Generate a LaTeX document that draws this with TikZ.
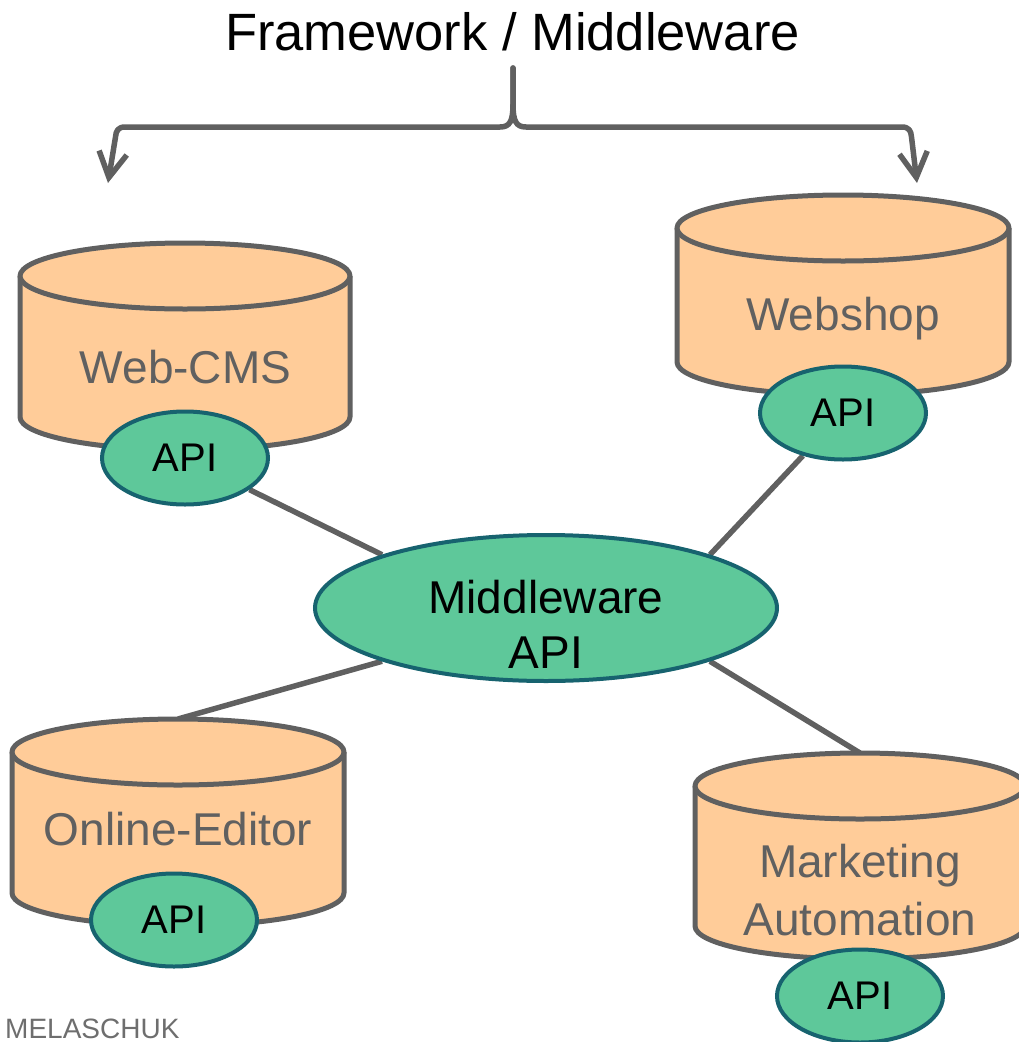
\documentclass[tikz,border=0pt]{standalone}
\usepackage{fontspec}
\setmainfont{Liberation Sans}
\usetikzlibrary{shapes.geometric,arrows.meta}
\pgfdeclarelayer{background}
\pgfsetlayers{background,main}
\definecolor{peach}{HTML}{FFCC99}
\definecolor{edgegray}{HTML}{606060}
\definecolor{apigreen}{HTML}{5EC89A}
\definecolor{apiteal}{HTML}{17636F}
\definecolor{marktext}{HTML}{6E6E6E}
\tikzset{
  cylline/.style={draw=edgegray, line width=5pt, line join=round},
  apinode/.style={ellipse, fill=apigreen, draw=apiteal, line width=4pt, inner sep=0pt,
    minimum width=166pt, minimum height=93pt, font=\fontsize{40}{48}\selectfont, text=black},
  mwnode/.style={ellipse, fill=apigreen, draw=apiteal, line width=4pt, inner sep=0pt,
    minimum width=462pt, minimum height=146pt},
  mwtext/.style={font=\fontsize{46}{55}\selectfont, text=black, anchor=base, inner sep=0pt},
  cyltext/.style={font=\fontsize{46}{55}\selectfont, text=edgegray, anchor=base, inner sep=0pt},
  link/.style={draw=edgegray, line width=5.5pt},
  brace/.style={draw=edgegray, line width=5.5pt, line join=round, line cap=round,
    -{Straight Barb[length=25pt,width=28pt]}},
}
% name, cx, ytop, ybottom, rx, ry
\newcommand{\dbcyl}[6]{%
  \fill[peach] (#2-#5,#3) -- (#2-#5,#4) arc[start angle=180,end angle=360,x radius=#5pt,y radius=#6pt] -- (#2+#5,#3) -- cycle;
  \draw[cylline] (#2-#5,#3) -- (#2-#5,#4) arc[start angle=180,end angle=360,x radius=#5pt,y radius=#6pt] -- (#2+#5,#3);
  \draw[cylline, fill=peach] (#2,#3) ellipse[x radius=#5pt, y radius=#6pt];
  \node[inner sep=0pt, minimum width={2*#5*1pt}, minimum height={(#4-#3+2*#6)*1pt}, anchor=north] (#1) at (#2,#3-#6) {};
}
\begin{document}
\begin{tikzpicture}[x=1pt,y=-1pt]
\useasboundingbox (0,0) rectangle (1019,1042);

% title and brace
\node[font=\fontsize{52.5}{63}\selectfont, anchor=base, inner sep=0pt] (title) at (512.5,50) {Framework / Middleware};
\coordinate (stem) at (513,68);
\coordinate (ltip) at (108,183);
\coordinate (rtip) at (917,183);
\draw[brace] (stem) -- (513,104) .. controls (513,121) and (510,127) .. (500,127) -- (125,127)
  .. controls (118,127) and (116,131) .. (115.5,137) -- (ltip);
\draw[brace] (stem) -- (513,104) .. controls (513,121) and (516,127) .. (526,127) -- (902,127)
  .. controls (909,127) and (911,131) .. (911.5,137) -- (rtip);

% cylinders
\dbcyl{wcms}{185}{276}{417}{165}{33}
\node[cyltext] (wcmstext) at (185.5,383) {Web-CMS};
\dbcyl{shop}{843}{228}{362}{166}{33}
\node[cyltext] (shoptext) at (843,330) {Webshop};
\dbcyl{oed}{178}{752}{893}{166}{33}
\node[cyltext] (oedtext) at (178,845) {Online-Editor};
\dbcyl{mkt}{860}{786}{926}{165}{33}
\node[cyltext] (mkttext1) at (860,877) {Marketing};
\node[cyltext] (mkttext2) at (860,935) {Automation};

% API ellipses
\node[apinode] (wapi) at (185,458) {API};
\node[apinode] (sapi) at (843,413) {API};
\node[apinode] (oapi) at (174,920) {API};
\node[apinode] (mapi) at (860,996) {API};

% middleware
\node[mwnode] (mw) at (546,608) {};
\node[mwtext] (mwt1) at (546,613) {Middleware};
\node[mwtext] (mwt2) at (546,668) {API};

% connectors
\begin{pgfonlayer}{background}
\draw[link] (wapi) -- (mw.162);
\draw[link] (sapi) -- (mw.18);
\draw[link] (oed.north) -- (mw.198);
\draw[link] (mkt.north) -- (mw.342);
\end{pgfonlayer}

% footer mark
\node[font=\fontsize{28}{34}\selectfont, text=marktext, anchor=base west, inner sep=0pt] (logo) at (5,1038) {MELASCHUK};
\end{tikzpicture}
\end{document}
